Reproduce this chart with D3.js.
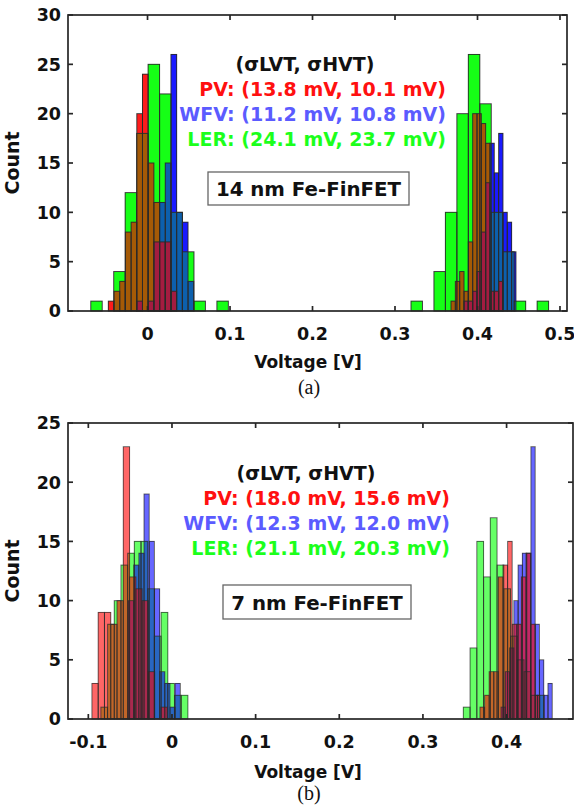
<!DOCTYPE html>
<html>
<head>
<meta charset="utf-8">
<script src="https://cdn.jsdelivr.net/npm/d3@7/dist/d3.min.js"></script>
<style>
  body { margin: 0; background: #fff; }
  svg text { font-family: "DejaVu Sans", sans-serif; font-weight: bold; fill: #111; }
  svg text.cap { font-family: "Liberation Serif", serif; font-weight: normal; }
</style>
</head>
<body>
<svg id="chart" width="574" height="812"></svg>
<script>
// ---------- data ----------
// each histogram: first bin edge [V], bin width [V], counts per bin
// (a) 14 nm Fe-FinFET
const aLerLvtStart = -0.0688, aLerLvtWidth = 0.0139;
const aLerLvt = [1, 0, 4, 12, 18, 25, 22, 10, 6, 1, 0, 1];
const aWfvLvtStart = -0.0130, aWfvLvtWidth = 0.0069;
const aWfvLvt = [1, 0, 1, 7, 11, 15, 26, 10, 9, 3];
const aPvLvtStart = -0.0475, aPvLvtWidth = 0.0069;
const aPvLvt = [1, 2, 3, 8, 9, 20, 24, 15, 11, 7, 7, 2];

const aLerHvtStart = 0.3194, aLerHvtWidth = 0.0139;
const aLerHvt = [1, 0, 4, 10, 20, 26, 21, 10, 6, 1, 0, 1];
const aWfvHvtStart = 0.3836, aWfvHvtWidth = 0.00525;
const aWfvHvt = [1, 1, 2, 4, 8, 13, 17, 14, 18, 10, 9, 6];
const aPvHvtStart = 0.3679, aPvHvtWidth = 0.00525;
const aPvHvt = [1, 3, 4, 2, 7, 20, 20, 19, 17, 2, 2, 3];

// (b) 7 nm Fe-FinFET
const bLerLvtStart = -0.0850, bLerLvtWidth = 0.0080;
const bLerLvt = [1, 8, 10, 13, 14, 15, 15, 11, 7, 9, 3, 2, 2];
const bWfvLvtStart = -0.0520, bWfvLvtWidth = 0.0062;
const bWfvLvt = [10, 13, 14, 19, 15, 11, 4, 3, 1, 3];
const bPvLvtStart = -0.0957, bPvLvtWidth = 0.0075;
const bPvLvt = [3, 9, 9, 8, 10, 23, 12, 11, 10, 4, 0, 1];

const bLerHvtStart = 0.3483, bLerHvtWidth = 0.00806;
const bLerHvt = [1, 6, 15, 12, 17, 13, 11, 7, 5, 4, 2, 2];
const bWfvHvtStart = 0.3934, bWfvHvtWidth = 0.0051;
const bWfvHvt = [1, 4, 6, 10, 13, 14, 14, 23, 8, 5, 2, 3];
const bPvHvtStart = 0.3682, bPvHvtWidth = 0.0055;
const bPvHvt = [1, 2, 4, 4, 12, 13, 15, 8, 8, 12, 14, 8, 2];

// axes ticks and texts
const aTicksX = [0, 0.1, 0.2, 0.3, 0.4, 0.5];
const aTickLabelsX = ["0", "0.1", "0.2", "0.3", "0.4", "0.5"];
const aTicksY = [0, 5, 10, 15, 20, 25, 30];
const bTicksX = [-0.1, 0, 0.1, 0.2, 0.3, 0.4];
const bTickLabelsX = ["-0.1", "0", "0.1", "0.2", "0.3", "0.4"];
const bTicksY = [0, 5, 10, 15, 20, 25];

const sigmaHeader = "(\u03c3LVT, \u03c3HVT)";
const aSigmaLines = ["PV: (13.8 mV, 10.1 mV)", "WFV: (11.2 mV, 10.8 mV)", "LER: (24.1 mV, 23.7 mV)"];
const bSigmaLines = ["PV: (18.0 mV, 15.6 mV)", "WFV: (12.3 mV, 12.0 mV)", "LER: (21.1 mV, 20.3 mV)"];
const lineColors = ["#ff1010", "#5b5bff", "#1cff1c"];

// ---------- drawing ----------
const svg = d3.select("#chart");

function bins(start, width, counts) {
  return counts.map((n, i) => ({ x0: start + i * width, x1: start + (i + 1) * width, n: n }));
}

// colour of an area given which of the series (G, B, R) cover it
const aFill = { G: "#16ff16", B: "#1a1aff", R: "#ff1c1c", GR: "#a55a06", GB: "#0d60ad", BR: "#b0184c", GBR: "#a41c40" };
const bFill = { G: "#66ff66", B: "#6666ff", R: "#ff6666", GR: "#c26629", GB: "#2966c2", BR: "#c22966", GBR: "#a9294e" };

function drawPanel(p) {
  const g = svg.append("g");
  const x = d3.scaleLinear().domain(p.xDomain).range([p.left, p.right]);
  const y = d3.scaleLinear().domain(p.yDomain).range([p.bottom, p.top]);

  // overlapping histogram areas
  const series = [["G", p.ler], ["B", p.wfv], ["R", p.pv]];
  const edges = Array.from(new Set(series.flatMap(s => s[1].flatMap(b => [b.x0, b.x1])))).sort((a, b) => a - b);
  const heightAt = (bs, v) => { const b = bs.find(d => v >= d.x0 && v < d.x1); return b ? b.n : 0; };
  const cells = [];
  for (let i = 0; i < edges.length - 1; i++) {
    const mid = (edges[i] + edges[i + 1]) / 2;
    const hs = series.map(s => [s[0], heightAt(s[1], mid)]);
    const levels = Array.from(new Set(hs.map(h => h[1]).filter(v => v > 0))).sort((a, b) => a - b);
    let prev = 0;
    levels.forEach(L => {
      const key = hs.filter(h => h[1] >= L).map(h => h[0]).join("");
      cells.push({ x0: edges[i], x1: edges[i + 1], y0: prev, y1: L, key: key });
      prev = L;
    });
  }
  g.append("g").selectAll("rect").data(cells).join("rect")
    .attr("x", d => x(d.x0)).attr("width", d => x(d.x1) - x(d.x0))
    .attr("y", d => y(d.y1)).attr("height", d => y(d.y0) - y(d.y1))
    .attr("fill", d => p.fill[d.key]).attr("shape-rendering", "crispEdges");

  // bar outlines
  series.forEach(s => {
    g.append("g").selectAll("rect").data(s[1].filter(b => b.n > 0)).join("rect")
      .attr("x", d => x(d.x0)).attr("width", d => x(d.x1) - x(d.x0))
      .attr("y", d => y(d.n)).attr("height", d => y(0) - y(d.n))
      .attr("fill", "none").attr("stroke", "#2a2a2a").attr("stroke-opacity", p.edgeOpacity).attr("stroke-width", 1);
  });

  // axes box with inward ticks on all sides
  const ax = g.append("g").attr("stroke", "#262626").attr("stroke-width", 1.7).attr("fill", "none");
  ax.append("rect").attr("x", p.left).attr("y", p.top).attr("width", p.right - p.left).attr("height", p.bottom - p.top);
  p.ticksX.forEach(t => {
    ax.append("line").attr("x1", x(t)).attr("x2", x(t)).attr("y1", p.bottom).attr("y2", p.bottom - 5);
    ax.append("line").attr("x1", x(t)).attr("x2", x(t)).attr("y1", p.top).attr("y2", p.top + 5);
  });
  p.ticksY.forEach(t => {
    ax.append("line").attr("x1", p.left).attr("x2", p.left + 5).attr("y1", y(t)).attr("y2", y(t));
    ax.append("line").attr("x1", p.right).attr("x2", p.right - 5).attr("y1", y(t)).attr("y2", y(t));
  });

  g.selectAll(".tx").data(p.ticksX).join("text")
    .attr("x", d => x(d)).attr("y", p.bottom + 29).attr("text-anchor", "middle")
    .attr("font-size", 17.5).text((d, i) => p.tickLabelsX[i]);
  g.selectAll(".ty").data(p.ticksY).join("text")
    .attr("x", p.left - 7).attr("y", d => y(d)).attr("dy", "0.36em").attr("text-anchor", "end")
    .attr("font-size", 17.5).text(d => d);

  g.append("text").attr("transform", `translate(${p.left - 49},${(p.top + p.bottom) / 2}) rotate(-90)`)
    .attr("text-anchor", "middle").attr("font-size", 19).text("Count");
  g.append("text").attr("x", 308).attr("y", p.labelY).attr("text-anchor", "middle")
    .attr("font-size", 17).text("Voltage [V]");
  g.append("text").attr("class", "cap").attr("x", 309).attr("y", p.capY).attr("text-anchor", "middle")
    .attr("font-size", 20).text(p.caption);

  // sigma annotation
  g.append("text").attr("x", p.headX).attr("y", p.headY).attr("text-anchor", "middle")
    .attr("font-size", 19).text(sigmaHeader);
  g.selectAll(".sl").data(p.lines).join("text")
    .attr("x", p.linesX).attr("y", (d, i) => p.headY + 25 * (i + 1)).attr("text-anchor", "end")
    .attr("font-size", 19).style("fill", (d, i) => lineColors[i]).text(d => d);

  // node label box
  g.append("rect").attr("x", p.box[0]).attr("y", p.box[1]).attr("width", p.box[2] - p.box[0]).attr("height", p.box[3] - p.box[1])
    .attr("fill", "#fff").attr("stroke", "#666").attr("stroke-width", 1.3);
  g.append("text").attr("x", (p.box[0] + p.box[2]) / 2).attr("y", p.box[3] - 9).attr("text-anchor", "middle")
    .attr("font-size", 19.8).text(p.node);
}

drawPanel({
  left: 68, right: 567, top: 15, bottom: 311,
  xDomain: [-0.0964, 0.5085], yDomain: [0, 30],
  ticksX: aTicksX, tickLabelsX: aTickLabelsX, ticksY: aTicksY,
  ler: bins(aLerLvtStart, aLerLvtWidth, aLerLvt).concat(bins(aLerHvtStart, aLerHvtWidth, aLerHvt)),
  wfv: bins(aWfvLvtStart, aWfvLvtWidth, aWfvLvt).concat(bins(aWfvHvtStart, aWfvHvtWidth, aWfvHvt)),
  pv: bins(aPvLvtStart, aPvLvtWidth, aPvLvt).concat(bins(aPvHvtStart, aPvHvtWidth, aPvHvt)),
  fill: aFill, edgeOpacity: 0.9,
  headX: 305, headY: 71, linesX: 446, lines: aSigmaLines,
  box: [208, 172, 409, 205], node: "14 nm Fe-FinFET",
  labelY: 368, caption: "(a)", capY: 394
});

drawPanel({
  left: 68, right: 573, top: 423, bottom: 719,
  xDomain: [-0.1243, 0.4794], yDomain: [0, 25],
  ticksX: bTicksX, tickLabelsX: bTickLabelsX, ticksY: bTicksY,
  ler: bins(bLerLvtStart, bLerLvtWidth, bLerLvt).concat(bins(bLerHvtStart, bLerHvtWidth, bLerHvt)),
  wfv: bins(bWfvLvtStart, bWfvLvtWidth, bWfvLvt).concat(bins(bWfvHvtStart, bWfvHvtWidth, bWfvHvt)),
  pv: bins(bPvLvtStart, bPvLvtWidth, bPvLvt).concat(bins(bPvHvtStart, bPvHvtWidth, bPvHvt)),
  fill: bFill, edgeOpacity: 0.7,
  headX: 306, headY: 480, linesX: 450, lines: bSigmaLines,
  box: [223, 585, 411, 619], node: "7 nm Fe-FinFET",
  labelY: 778, caption: "(b)", capY: 800
});
</script>
</body>
</html>
